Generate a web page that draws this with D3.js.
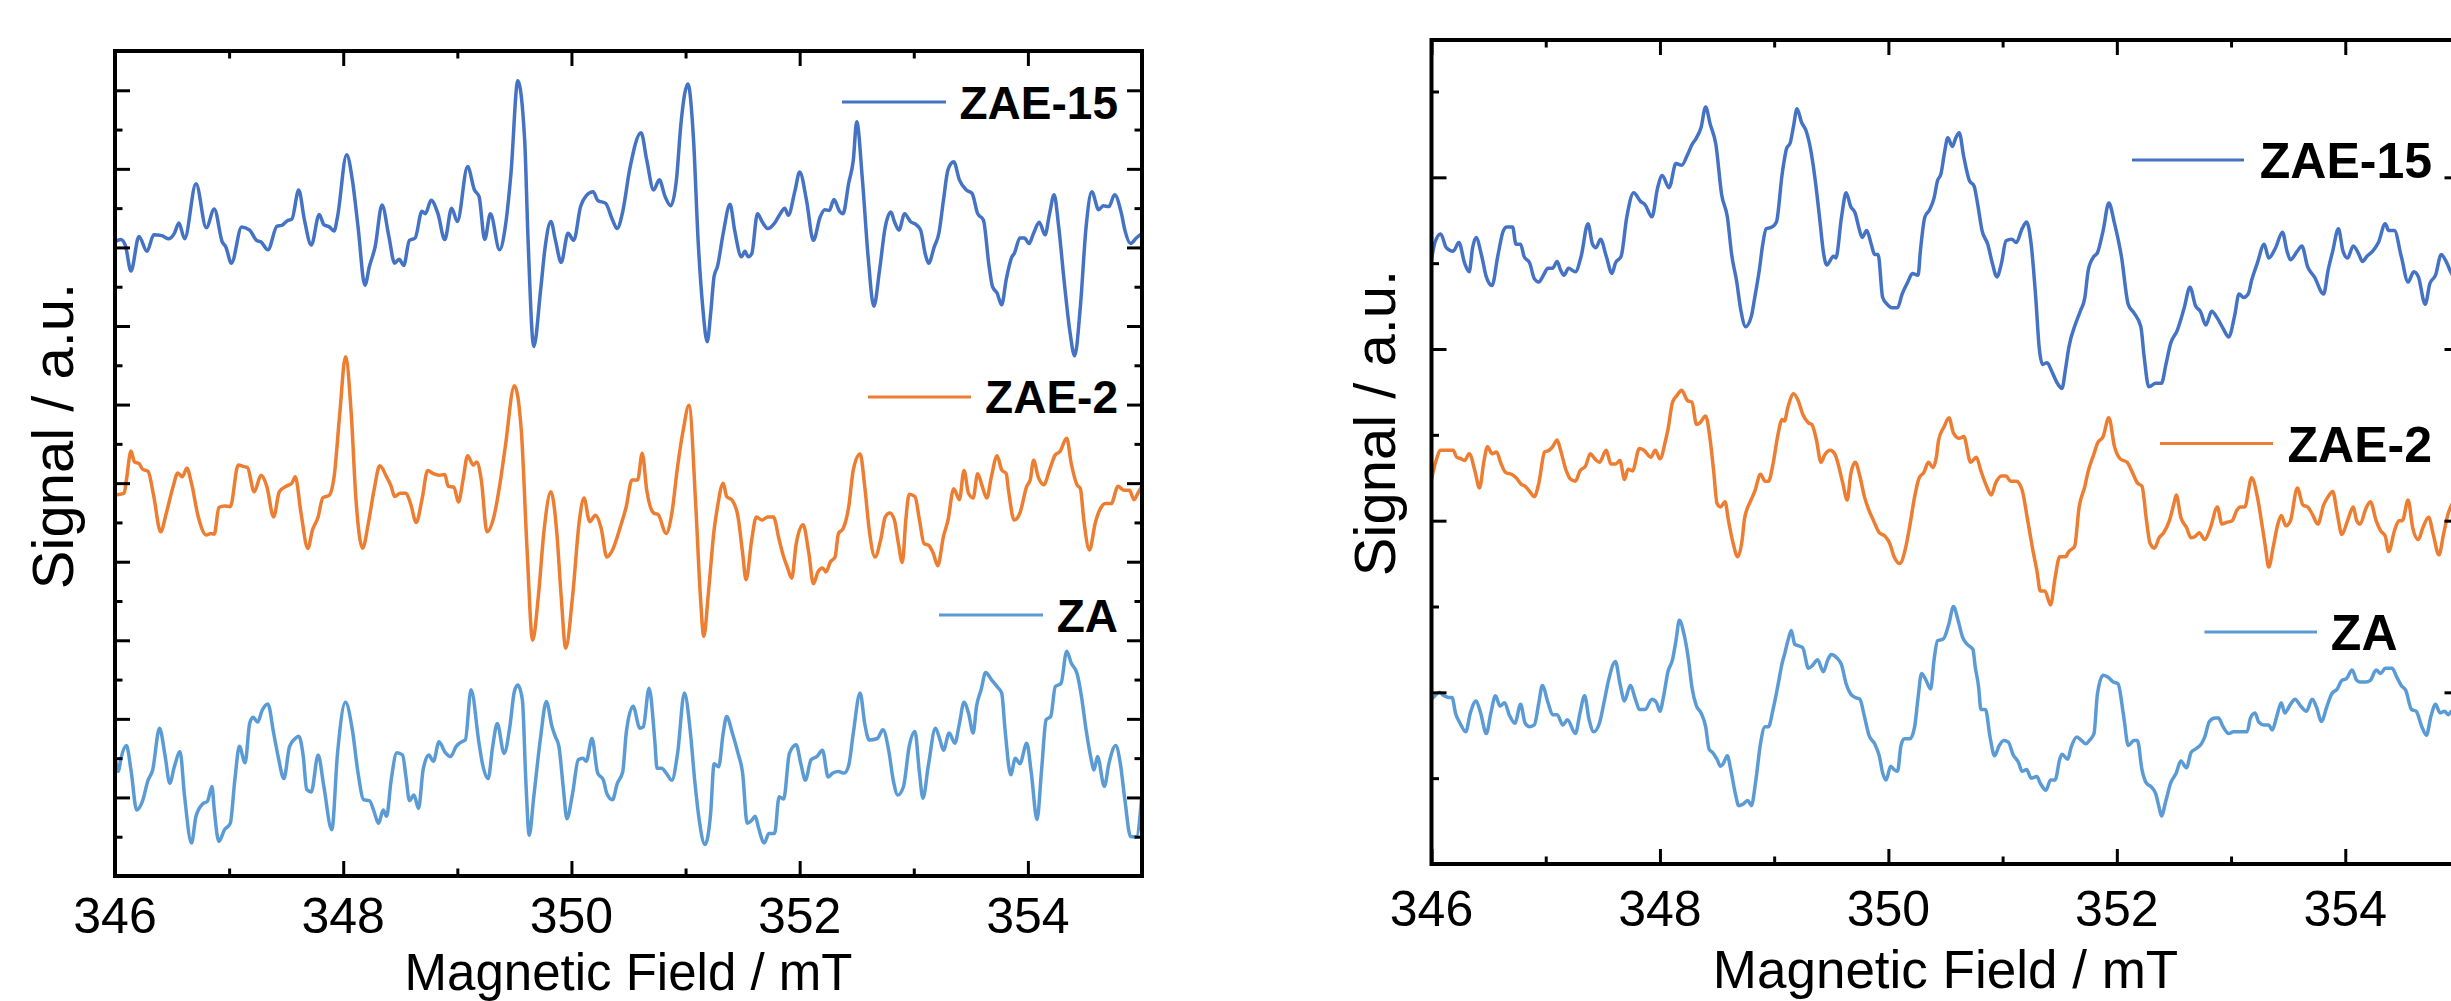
<!DOCTYPE html>
<html><head><meta charset="utf-8">
<script src="https://cdn.jsdelivr.net/npm/d3@7"></script>
<style>html,body{margin:0;padding:0;background:#fff;} svg{display:block;}</style>
</head><body>
<svg id="chart" width="2451" height="1001"></svg>
<script>
// ---------------- data ----------------
const seriesNames = ["ZAE-15", "ZAE-2", "ZA"];
const seriesColors = ["#4472C4", "#ED7D31", "#5B9BD5"];
const fieldDomain = [346, 355];
const xMajorTicks = [346, 348, 350, 352, 354];
const xMinorTicks = [347, 349, 351, 353, 355];
const xAxisTitle = "Magnetic Field / mT";
const yAxisTitle = "Signal / a.u.";
const leftSignalDomain = [0, 10.5];
const rightSignalDomain = [0, 4.8];

// left panel: [field mT, signal a.u.]
const leftZAE15 = [[346.00,8.07],[346.05,8.10],[346.09,8.03],[346.14,7.70],[346.21,8.14],[346.28,7.95],[346.34,8.16],[346.41,8.15],[346.47,8.11],[346.52,8.18],[346.56,8.31],[346.61,8.11],[346.71,8.81],[346.80,8.25],[346.87,8.49],[346.94,8.07],[346.97,8.01],[347.02,7.80],[347.11,8.26],[347.18,8.22],[347.24,8.09],[347.28,8.07],[347.34,7.97],[347.42,8.27],[347.46,8.28],[347.51,8.34],[347.55,8.36],[347.61,8.73],[347.66,8.35],[347.72,8.03],[347.79,8.42],[347.83,8.29],[347.88,8.26],[347.92,8.21],[347.95,8.39],[348.03,9.18],[348.08,8.86],[348.13,8.26],[348.19,7.52],[348.23,7.76],[348.28,8.01],[348.34,8.54],[348.40,8.14],[348.45,7.80],[348.49,7.85],[348.53,7.77],[348.58,8.09],[348.63,8.12],[348.69,8.46],[348.72,8.43],[348.77,8.60],[348.83,8.43],[348.89,8.10],[348.95,8.50],[349.00,8.33],[349.09,9.03],[349.15,8.73],[349.19,8.65],[349.24,8.10],[349.29,8.43],[349.37,7.97],[349.42,8.26],[349.47,8.94],[349.53,10.12],[349.59,9.37],[349.62,8.09],[349.67,6.74],[349.73,7.46],[349.77,8.01],[349.82,8.33],[349.86,8.09],[349.91,7.81],[349.97,8.18],[350.02,8.09],[350.08,8.52],[350.13,8.66],[350.19,8.71],[350.23,8.60],[350.30,8.56],[350.36,8.35],[350.40,8.24],[350.45,8.46],[350.51,8.99],[350.61,9.46],[350.66,9.11],[350.72,8.73],[350.77,8.86],[350.82,8.65],[350.87,8.53],[350.92,8.86],[350.96,9.58],[351.02,10.08],[351.07,9.37],[351.11,8.09],[351.15,7.25],[351.19,6.80],[351.22,7.16],[351.25,7.63],[351.28,7.76],[351.33,8.18],[351.39,8.55],[351.43,8.22],[351.49,7.88],[351.52,7.95],[351.55,7.88],[351.58,7.92],[351.63,8.43],[351.67,8.33],[351.72,8.24],[351.78,8.31],[351.83,8.43],[351.87,8.50],[351.90,8.41],[351.96,8.73],[352.00,8.96],[352.06,8.60],[352.12,8.09],[352.18,8.39],[352.22,8.48],[352.26,8.47],[352.30,8.61],[352.35,8.46],[352.38,8.43],[352.43,8.82],[352.47,9.11],[352.50,9.60],[352.55,8.86],[352.60,7.88],[352.65,7.25],[352.70,7.71],[352.75,8.26],[352.80,8.45],[352.83,8.33],[352.87,8.22],[352.92,8.43],[352.97,8.33],[353.02,8.29],[353.06,8.22],[353.10,7.92],[353.13,7.80],[353.18,8.01],[353.22,8.18],[353.26,8.60],[353.30,8.99],[353.35,9.09],[353.40,8.86],[353.46,8.73],[353.51,8.69],[353.56,8.43],[353.61,8.35],[353.66,7.76],[353.69,7.50],[353.73,7.42],[353.77,7.27],[353.81,7.59],[353.86,7.88],[353.88,7.92],[353.93,8.12],[353.97,8.12],[354.01,8.05],[354.05,8.18],[354.10,8.32],[354.15,8.16],[354.19,8.43],[354.23,8.67],[354.27,8.26],[354.32,7.54],[354.37,6.91],[354.41,6.62],[354.46,7.25],[354.51,8.26],[354.56,8.71],[354.62,8.48],[354.66,8.53],[354.71,8.52],[354.76,8.67],[354.82,8.43],[354.85,8.22],[354.90,8.05],[354.95,8.12],[355.00,8.18]];

const leftZAE2 = [[346.00,4.85],[346.08,4.87],[346.10,5.04],[346.14,5.41],[346.17,5.27],[346.21,5.25],[346.24,5.18],[346.29,5.15],[346.34,4.83],[346.40,4.38],[346.45,4.62],[346.51,4.96],[346.55,5.13],[346.59,5.08],[346.63,5.19],[346.67,5.00],[346.73,4.57],[346.80,4.34],[346.84,4.36],[346.87,4.35],[346.91,4.69],[346.96,4.71],[347.01,4.70],[347.08,5.23],[347.13,5.21],[347.16,5.20],[347.22,4.89],[347.28,5.10],[347.33,4.96],[347.39,4.57],[347.44,4.89],[347.50,4.96],[347.55,5.00],[347.58,5.08],[347.63,4.62],[347.69,4.17],[347.73,4.40],[347.78,4.57],[347.82,4.81],[347.88,4.85],[347.92,5.08],[347.97,5.89],[348.02,6.61],[348.07,5.89],[348.11,4.83],[348.17,4.17],[348.22,4.49],[348.27,4.91],[348.32,5.22],[348.38,5.08],[348.42,4.96],[348.45,4.83],[348.50,4.87],[348.55,4.87],[348.59,4.74],[348.64,4.50],[348.69,4.79],[348.74,5.16],[348.79,5.12],[348.84,5.10],[348.89,5.11],[348.92,4.96],[348.97,4.95],[349.01,4.76],[349.05,5.04],[349.09,5.35],[349.14,5.23],[349.17,5.27],[349.21,5.04],[349.26,4.38],[349.32,4.57],[349.37,4.96],[349.42,5.46],[349.50,6.24],[349.56,5.68],[349.61,4.19],[349.66,3.00],[349.71,3.56],[349.76,4.40],[349.82,4.89],[349.87,4.40],[349.91,3.56],[349.95,2.90],[350.01,3.56],[350.07,4.53],[350.11,4.81],[350.16,4.51],[350.21,4.59],[350.26,4.43],[350.31,4.06],[350.36,4.15],[350.43,4.45],[350.48,4.70],[350.53,5.04],[350.58,5.04],[350.62,5.38],[350.66,4.91],[350.72,4.62],[350.76,4.60],[350.83,4.36],[350.88,4.62],[350.93,5.21],[350.98,5.68],[351.03,5.99],[351.09,4.70],[351.13,3.56],[351.16,3.05],[351.20,3.60],[351.25,4.40],[351.28,4.70],[351.33,5.00],[351.36,4.83],[351.41,4.78],[351.46,4.57],[351.50,4.11],[351.53,3.77],[351.58,4.28],[351.62,4.57],[351.67,4.53],[351.72,4.57],[351.77,4.57],[351.82,4.28],[351.86,4.06],[351.89,3.94],[351.93,3.79],[351.97,4.23],[352.03,4.47],[352.08,4.11],[352.12,3.72],[352.16,3.87],[352.20,3.92],[352.23,3.87],[352.27,4.00],[352.31,4.06],[352.34,4.36],[352.38,4.42],[352.43,4.70],[352.47,5.17],[352.53,5.37],[352.57,4.96],[352.61,4.40],[352.66,4.06],[352.71,4.28],[352.75,4.57],[352.79,4.62],[352.83,4.53],[352.86,4.28],[352.90,3.99],[352.93,4.53],[352.96,4.86],[353.01,4.83],[353.05,4.53],[353.09,4.23],[353.13,4.21],[353.17,4.11],[353.21,3.95],[353.26,4.32],[353.30,4.53],[353.35,4.93],[353.40,4.79],[353.44,5.16],[353.48,4.87],[353.52,4.81],[353.56,5.12],[353.60,4.96],[353.64,4.81],[353.68,5.08],[353.73,5.35],[353.77,5.17],[353.81,5.12],[353.83,4.91],[353.88,4.53],[353.93,4.62],[353.99,4.96],[354.02,5.04],[354.05,5.29],[354.09,5.08],[354.14,4.98],[354.19,5.17],[354.24,5.36],[354.28,5.40],[354.34,5.57],[354.38,5.25],[354.43,4.98],[354.46,4.93],[354.49,4.53],[354.54,4.15],[354.59,4.49],[354.63,4.66],[354.68,4.74],[354.73,4.74],[354.79,4.96],[354.84,4.91],[354.89,4.91],[354.93,4.79],[354.97,4.89],[355.00,4.96]];

const leftZA = [[346.00,1.54],[346.03,1.33],[346.05,1.48],[346.10,1.66],[346.14,1.35],[346.19,0.84],[346.24,0.95],[346.29,1.22],[346.33,1.35],[346.39,1.88],[346.44,1.52],[346.48,1.18],[346.52,1.39],[346.57,1.58],[346.61,1.01],[346.67,0.42],[346.71,0.76],[346.77,0.92],[346.81,0.95],[346.85,1.14],[346.87,0.84],[346.91,0.44],[346.96,0.59],[347.01,0.67],[347.05,1.22],[347.09,1.65],[347.14,1.44],[347.18,1.94],[347.21,2.02],[347.25,1.96],[347.29,2.11],[347.34,2.19],[347.39,1.82],[347.43,1.52],[347.48,1.24],[347.53,1.65],[347.58,1.75],[347.61,1.78],[347.65,1.52],[347.68,1.10],[347.72,1.07],[347.78,1.54],[347.83,1.14],[347.90,0.59],[347.95,1.56],[348.02,2.21],[348.08,1.86],[348.13,1.31],[348.18,0.97],[348.23,0.96],[348.27,0.82],[348.31,0.67],[348.35,0.84],[348.38,0.76],[348.42,1.22],[348.47,1.57],[348.52,1.54],[348.55,1.26],[348.58,0.96],[348.62,1.03],[348.66,0.86],[348.70,1.35],[348.75,1.54],[348.79,1.46],[348.84,1.71],[348.89,1.58],[348.94,1.52],[348.99,1.65],[349.04,1.71],[349.07,1.73],[349.12,2.37],[349.19,1.69],[349.22,1.43],[349.27,1.24],[349.31,1.65],[349.35,1.94],[349.41,1.56],[349.46,1.90],[349.50,2.35],[349.53,2.43],[349.57,2.24],[349.60,1.22],[349.63,0.52],[349.67,1.01],[349.73,1.77],[349.78,2.22],[349.83,1.90],[349.86,1.77],[349.89,1.65],[349.93,1.10],[349.96,0.73],[350.01,1.05],[350.06,1.48],[350.10,1.50],[350.13,1.46],[350.18,1.75],[350.23,1.31],[350.28,1.22],[350.31,1.05],[350.36,0.97],[350.40,1.17],[350.45,1.33],[350.48,1.82],[350.54,2.16],[350.60,1.88],[350.63,1.90],[350.68,2.39],[350.73,1.73],[350.75,1.37],[350.79,1.37],[350.83,1.31],[350.88,1.22],[350.93,1.56],[350.99,2.33],[351.04,1.86],[351.08,1.22],[351.12,0.71],[351.17,0.40],[351.22,0.80],[351.25,1.43],[351.29,1.39],[351.33,1.82],[351.36,2.03],[351.41,1.82],[351.46,1.56],[351.50,1.31],[351.54,0.67],[351.58,0.71],[351.61,0.76],[351.64,0.61],[351.69,0.42],[351.73,0.54],[351.78,0.54],[351.82,1.01],[351.86,0.98],[351.91,1.56],[351.97,1.67],[352.01,1.43],[352.05,1.22],[352.10,1.48],[352.15,1.52],[352.20,1.60],[352.25,1.26],[352.29,1.31],[352.34,1.33],[352.39,1.31],[352.43,1.41],[352.47,1.82],[352.53,2.33],[352.57,1.94],[352.61,1.73],[352.68,1.75],[352.73,1.86],[352.78,1.60],[352.82,1.22],[352.86,1.03],[352.91,1.14],[352.96,1.65],[353.01,1.84],[353.05,1.31],[353.08,0.99],[353.13,1.43],[353.19,1.88],[353.23,1.73],[353.26,1.60],[353.31,1.82],[353.36,1.69],[353.40,1.94],[353.44,2.21],[353.48,2.07],[353.52,1.82],[353.55,2.16],[353.59,2.37],[353.63,2.59],[353.68,2.50],[353.73,2.41],[353.77,2.33],[353.80,1.86],[353.85,1.29],[353.89,1.50],[353.93,1.43],[353.99,1.69],[354.03,1.31],[354.08,0.72],[354.12,1.35],[354.16,1.99],[354.20,2.03],[354.24,2.41],[354.29,2.45],[354.34,2.86],[354.38,2.71],[354.43,2.58],[354.47,2.28],[354.51,1.86],[354.55,1.52],[354.58,1.35],[354.61,1.52],[354.67,1.14],[354.71,1.43],[354.77,1.66],[354.81,1.43],[354.85,0.97],[354.90,0.50],[354.95,0.50],[355.00,1.05]];

// right panel: [field mT, signal a.u.]
const rightZAE15 = [[346.00,3.52],[346.03,3.62],[346.08,3.67],[346.13,3.59],[346.19,3.57],[346.24,3.62],[346.29,3.50],[346.33,3.45],[346.36,3.59],[346.39,3.65],[346.44,3.54],[346.48,3.42],[346.53,3.37],[346.58,3.54],[346.63,3.69],[346.66,3.71],[346.71,3.71],[346.74,3.61],[346.78,3.61],[346.81,3.54],[346.86,3.50],[346.90,3.41],[346.94,3.39],[346.98,3.43],[347.02,3.47],[347.06,3.47],[347.10,3.51],[347.13,3.46],[347.16,3.43],[347.20,3.47],[347.26,3.45],[347.31,3.54],[347.37,3.73],[347.41,3.61],[347.44,3.59],[347.48,3.64],[347.53,3.54],[347.58,3.44],[347.61,3.50],[347.66,3.54],[347.71,3.77],[347.77,3.91],[347.83,3.86],[347.87,3.84],[347.93,3.77],[347.98,3.94],[348.02,4.01],[348.08,3.94],[348.14,4.08],[348.19,4.07],[348.24,4.13],[348.28,4.19],[348.32,4.23],[348.36,4.29],[348.40,4.41],[348.44,4.31],[348.49,4.19],[348.54,3.90],[348.59,3.77],[348.63,3.54],[348.67,3.40],[348.71,3.22],[348.75,3.13],[348.80,3.19],[348.83,3.30],[348.87,3.46],[348.90,3.61],[348.93,3.70],[348.98,3.71],[349.02,3.74],[349.07,4.02],[349.11,4.17],[349.14,4.20],[349.17,4.30],[349.20,4.40],[349.24,4.32],[349.28,4.27],[349.32,4.16],[349.36,3.98],[349.40,3.75],[349.43,3.57],[349.46,3.49],[349.52,3.54],[349.54,3.53],[349.59,3.77],[349.63,3.91],[349.67,3.83],[349.71,3.79],[349.74,3.71],[349.77,3.65],[349.81,3.69],[349.85,3.61],[349.88,3.55],[349.91,3.55],[349.95,3.30],[349.99,3.26],[350.03,3.24],[350.08,3.24],[350.12,3.32],[350.17,3.39],[350.21,3.44],[350.26,3.43],[350.28,3.57],[350.32,3.77],[350.36,3.81],[350.40,3.88],[350.43,3.98],[350.46,4.02],[350.49,4.14],[350.52,4.23],[350.56,4.18],[350.59,4.23],[350.62,4.26],[350.66,4.12],[350.71,3.98],[350.75,3.95],[350.78,3.85],[350.82,3.69],[350.87,3.61],[350.91,3.50],[350.95,3.42],[350.99,3.50],[351.03,3.63],[351.08,3.64],[351.12,3.62],[351.17,3.70],[351.21,3.74],[351.25,3.61],[351.29,3.30],[351.32,3.01],[351.35,2.91],[351.39,2.92],[351.43,2.87],[351.48,2.80],[351.52,2.77],[351.55,2.88],[351.58,3.01],[351.64,3.15],[351.68,3.22],[351.72,3.30],[351.75,3.46],[351.80,3.54],[351.83,3.56],[351.88,3.69],[351.93,3.85],[351.98,3.73],[352.04,3.54],[352.10,3.26],[352.15,3.21],[352.21,3.13],[352.24,2.95],[352.28,2.78],[352.34,2.80],[352.39,2.80],[352.43,2.91],[352.47,3.03],[352.53,3.11],[352.59,3.24],[352.64,3.36],[352.69,3.25],[352.73,3.22],[352.78,3.14],[352.83,3.22],[352.88,3.18],[352.93,3.12],[352.98,3.07],[353.03,3.19],[353.07,3.32],[353.11,3.30],[353.15,3.32],[353.18,3.40],[353.23,3.50],[353.29,3.61],[353.33,3.53],[353.39,3.59],[353.45,3.68],[353.49,3.57],[353.52,3.52],[353.58,3.57],[353.62,3.60],[353.67,3.48],[353.73,3.42],[353.81,3.32],[353.85,3.46],[353.89,3.57],[353.94,3.70],[353.98,3.57],[354.02,3.53],[354.07,3.60],[354.12,3.55],[354.15,3.51],[354.19,3.54],[354.24,3.57],[354.29,3.62],[354.35,3.73],[354.38,3.69],[354.43,3.69],[354.49,3.54],[354.55,3.39],[354.60,3.45],[354.64,3.42],[354.70,3.26],[354.74,3.38],[354.79,3.43],[354.84,3.55],[354.89,3.50],[354.93,3.44],[355.00,3.40]];

const rightZAE2 = [[346.00,2.24],[346.04,2.35],[346.08,2.41],[346.13,2.41],[346.16,2.41],[346.19,2.41],[346.22,2.37],[346.26,2.36],[346.29,2.35],[346.33,2.39],[346.38,2.29],[346.42,2.19],[346.46,2.35],[346.49,2.43],[346.53,2.39],[346.57,2.40],[346.61,2.33],[346.65,2.28],[346.70,2.27],[346.74,2.25],[346.79,2.21],[346.82,2.20],[346.86,2.17],[346.90,2.14],[346.94,2.22],[346.99,2.40],[347.03,2.41],[347.06,2.43],[347.10,2.47],[347.13,2.41],[347.18,2.29],[347.22,2.24],[347.26,2.23],[347.30,2.29],[347.35,2.32],[347.39,2.39],[347.43,2.36],[347.47,2.34],[347.53,2.41],[347.57,2.33],[347.61,2.33],[347.65,2.35],[347.69,2.24],[347.72,2.30],[347.76,2.29],[347.82,2.42],[347.86,2.41],[347.92,2.37],[347.96,2.41],[348.00,2.36],[348.05,2.47],[348.07,2.53],[348.11,2.69],[348.15,2.73],[348.19,2.76],[348.24,2.70],[348.28,2.69],[348.32,2.56],[348.35,2.57],[348.40,2.61],[348.44,2.47],[348.47,2.29],[348.50,2.10],[348.53,2.08],[348.57,2.11],[348.60,2.00],[348.64,1.87],[348.68,1.79],[348.72,1.89],[348.74,2.01],[348.79,2.11],[348.83,2.17],[348.88,2.27],[348.92,2.23],[348.95,2.23],[348.99,2.33],[349.03,2.49],[349.07,2.59],[349.09,2.58],[349.12,2.66],[349.17,2.74],[349.21,2.70],[349.25,2.62],[349.30,2.57],[349.33,2.56],[349.37,2.47],[349.41,2.34],[349.44,2.38],[349.49,2.41],[349.53,2.39],[349.56,2.33],[349.60,2.22],[349.64,2.12],[349.67,2.27],[349.71,2.34],[349.75,2.26],[349.79,2.14],[349.83,2.06],[349.87,2.00],[349.92,1.93],[349.97,1.91],[350.01,1.87],[350.05,1.79],[350.10,1.75],[350.15,1.84],[350.19,1.98],[350.23,2.14],[350.27,2.25],[350.31,2.28],[350.35,2.34],[350.39,2.31],[350.42,2.37],[350.44,2.47],[350.49,2.55],[350.53,2.60],[350.57,2.51],[350.62,2.48],[350.66,2.49],[350.72,2.34],[350.77,2.37],[350.81,2.29],[350.86,2.20],[350.90,2.15],[350.94,2.22],[350.99,2.26],[351.03,2.26],[351.07,2.23],[351.12,2.23],[351.17,2.18],[351.22,2.00],[351.27,1.81],[351.30,1.71],[351.33,1.59],[351.37,1.59],[351.42,1.51],[351.46,1.67],[351.50,1.79],[351.55,1.79],[351.58,1.82],[351.63,1.85],[351.67,2.08],[351.72,2.20],[351.75,2.29],[351.80,2.39],[351.83,2.45],[351.88,2.49],[351.93,2.60],[351.98,2.43],[352.03,2.36],[352.09,2.34],[352.13,2.29],[352.18,2.22],[352.22,2.20],[352.26,2.00],[352.29,1.87],[352.33,1.84],[352.37,1.90],[352.41,1.93],[352.46,2.00],[352.50,2.10],[352.52,2.15],[352.56,2.02],[352.61,1.96],[352.65,1.90],[352.69,1.91],[352.72,1.93],[352.77,1.89],[352.82,1.96],[352.88,2.08],[352.92,1.98],[352.96,1.99],[353.01,2.00],[353.05,2.06],[353.08,2.08],[353.12,2.08],[353.18,2.25],[353.23,2.14],[353.27,1.98],[353.30,1.85],[353.33,1.73],[353.37,1.85],[353.41,1.98],[353.44,2.03],[353.48,1.97],[353.52,2.00],[353.58,2.19],[353.63,2.09],[353.67,2.08],[353.71,2.04],[353.76,1.98],[353.81,2.09],[353.85,2.14],[353.89,2.17],[353.93,2.04],[353.97,1.92],[354.02,2.00],[354.07,2.08],[354.10,2.00],[354.13,1.98],[354.18,2.07],[354.22,2.11],[354.27,2.00],[354.31,1.94],[354.35,1.91],[354.38,1.82],[354.43,1.94],[354.47,2.00],[354.50,2.00],[354.55,2.12],[354.59,1.96],[354.64,1.89],[354.68,1.96],[354.73,2.02],[354.77,1.92],[354.82,1.80],[354.86,1.92],[354.90,2.04],[354.93,2.09],[355.00,2.15]];

const rightZA = [[346.00,0.96],[346.03,0.98],[346.07,1.00],[346.11,0.98],[346.15,0.97],[346.18,0.97],[346.21,0.88],[346.25,0.82],[346.30,0.77],[346.34,0.88],[346.39,0.95],[346.43,0.88],[346.48,0.76],[346.52,0.88],[346.56,0.98],[346.60,0.92],[346.64,0.94],[346.68,0.87],[346.73,0.82],[346.78,0.93],[346.82,0.82],[346.86,0.80],[346.90,0.81],[346.94,0.94],[346.97,1.04],[347.02,0.94],[347.06,0.87],[347.10,0.87],[347.15,0.81],[347.19,0.84],[347.26,0.76],[347.30,0.88],[347.34,0.98],[347.38,0.84],[347.42,0.77],[347.47,0.82],[347.51,0.94],[347.55,1.07],[347.61,1.18],[347.65,1.05],[347.69,0.95],[347.74,1.04],[347.79,0.95],[347.82,0.90],[347.87,0.90],[347.93,0.96],[347.97,0.94],[348.00,0.89],[348.03,0.97],[348.07,1.12],[348.11,1.19],[348.14,1.30],[348.17,1.42],[348.21,1.34],[348.25,1.19],[348.28,1.03],[348.32,0.92],[348.36,0.88],[348.40,0.80],[348.43,0.67],[348.46,0.65],[348.50,0.61],[348.53,0.57],[348.55,0.58],[348.59,0.63],[348.62,0.55],[348.66,0.41],[348.69,0.34],[348.73,0.35],[348.77,0.37],[348.80,0.34],[348.84,0.49],[348.88,0.70],[348.92,0.80],[348.95,0.80],[348.99,0.90],[349.03,1.03],[349.07,1.17],[349.09,1.22],[349.12,1.30],[349.15,1.36],[349.18,1.28],[349.22,1.27],[349.25,1.26],[349.30,1.14],[349.34,1.16],[349.38,1.19],[349.43,1.12],[349.47,1.19],[349.50,1.22],[349.55,1.20],[349.59,1.16],[349.63,1.05],[349.67,0.99],[349.71,0.97],[349.75,0.96],[349.79,0.86],[349.83,0.75],[349.88,0.70],[349.92,0.63],[349.95,0.53],[349.98,0.49],[350.02,0.57],[350.05,0.55],[350.08,0.54],[350.11,0.69],[350.14,0.73],[350.19,0.73],[350.23,0.80],[350.26,0.97],[350.29,1.11],[350.33,1.07],[350.37,1.02],[350.40,1.19],[350.43,1.30],[350.48,1.31],[350.53,1.40],[350.57,1.50],[350.61,1.42],[350.65,1.32],[350.69,1.28],[350.74,1.25],[350.76,1.15],[350.79,1.03],[350.81,0.90],[350.85,0.90],[350.89,0.74],[350.93,0.63],[350.97,0.69],[351.01,0.72],[351.05,0.71],[351.09,0.64],[351.14,0.59],[351.17,0.54],[351.21,0.55],[351.25,0.50],[351.30,0.51],[351.33,0.47],[351.38,0.43],[351.42,0.49],[351.46,0.49],[351.50,0.61],[351.52,0.64],[351.57,0.61],[351.60,0.68],[351.65,0.74],[351.69,0.72],[351.73,0.70],[351.76,0.72],[351.80,0.76],[351.83,0.99],[351.88,1.10],[351.92,1.09],[351.97,1.06],[352.01,1.05],[352.06,0.86],[352.10,0.69],[352.15,0.72],[352.18,0.72],[352.22,0.55],[352.26,0.47],[352.30,0.45],[352.34,0.41],[352.37,0.33],[352.39,0.28],[352.43,0.37],[352.47,0.47],[352.52,0.53],[352.56,0.60],[352.61,0.56],[352.65,0.65],[352.69,0.67],[352.74,0.70],[352.77,0.74],[352.81,0.83],[352.86,0.85],[352.89,0.85],[352.93,0.80],[352.98,0.76],[353.02,0.77],[353.08,0.77],[353.14,0.77],[353.17,0.85],[353.21,0.88],[353.24,0.83],[353.29,0.81],[353.33,0.81],[353.36,0.78],[353.40,0.86],[353.44,0.94],[353.47,0.88],[353.52,0.93],[353.56,0.96],[353.61,0.92],[353.66,0.89],[353.71,0.96],[353.75,0.91],[353.79,0.83],[353.84,0.92],[353.88,0.99],[353.93,1.02],[353.97,1.07],[354.01,1.08],[354.06,1.13],[354.10,1.07],[354.13,1.06],[354.18,1.06],[354.22,1.07],[354.27,1.13],[354.31,1.11],[354.35,1.14],[354.41,1.14],[354.45,1.09],[354.49,1.04],[354.53,1.01],[354.58,0.90],[354.62,0.89],[354.67,0.80],[354.71,0.75],[354.75,0.86],[354.79,0.93],[354.83,0.88],[354.87,0.89],[354.90,0.87],[354.93,0.89],[355.00,0.90]];

// ---------------- drawing ----------------
const svg = d3.select("#chart");
const FONT = "Arial, 'Liberation Sans', Helvetica, sans-serif";

const panels = [
  { id: "L", x0: 115, x1: 1142, yBottom: 876, yTop: 51, ydom: leftSignalDomain,
    series: [leftZAE15, leftZAE2, leftZA],
    tickLabelBaseline: 932.5, titleBaseline: 990, titleFont: 51, yTitleX: 73, yTitleY: 436,
    legendFont: 46,
    legend: [ {lx0: 842, lx1: 946, ly: 102, tx: 1118, tb: 119},
              {lx0: 868, lx1: 971, ly: 397, tx: 1118, tb: 413},
              {lx0: 939, lx1: 1043, ly: 615, tx: 1118, tb: 632} ] },
  { id: "R", x0: 1431.5, x1: 2459.5, yBottom: 864, yTop: 40, ydom: rightSignalDomain,
    series: [rightZAE15, rightZAE2, rightZA],
    tickLabelBaseline: 926, titleBaseline: 988, titleFont: 53, yTitleX: 1395, yTitleY: 423,
    legendFont: 50,
    legend: [ {lx0: 2132, lx1: 2244, ly: 160, tx: 2432, tb: 178},
              {lx0: 2160, lx1: 2273, ly: 443.5, tx: 2432, tb: 461.5},
              {lx0: 2204.5, lx1: 2317, ly: 632, tx: 2397.5, tb: 650} ] }
];

const MAJ = 15, MIN = 7.5;

panels.forEach(p => {
  const x = d3.scaleLinear().domain(fieldDomain).range([p.x0, p.x1]);
  const y = d3.scaleLinear().domain(p.ydom).range([p.yBottom, p.yTop]);
  const g = svg.append("g");

  const clipId = "clip" + p.id;
  svg.append("clipPath").attr("id", clipId).append("rect")
    .attr("x", p.x0).attr("y", p.yTop).attr("width", p.x1 - p.x0).attr("height", p.yBottom - p.yTop);

  // curves
  const line = d3.line().x(d => x(d[0])).y(d => y(d[1])).curve(d3.curveMonotoneX);
  const cg = g.append("g").attr("clip-path", `url(#${clipId})`);
  p.series.forEach((s, i) => {
    cg.append("path").datum(s).attr("d", line)
      .attr("fill", "none").attr("stroke", seriesColors[i])
      .attr("stroke-width", 3.5).attr("stroke-linejoin", "round").attr("stroke-linecap", "round");
  });

  // y tick values
  const yMajor = d3.range(Math.ceil(p.ydom[0]), Math.floor(p.ydom[1]) + 0.001, 1);
  const yMinor = d3.range(0.5, p.ydom[1] + 0.001, 1);

  function styleAxis(sel) {
    sel.select(".domain").remove();
    sel.selectAll(".tick line").attr("stroke", "#000").attr("stroke-width", 3);
    sel.selectAll(".tick text").remove();
  }
  // bottom
  g.append("g").attr("transform", `translate(0,${p.yBottom})`)
    .call(d3.axisBottom(x).tickValues(xMajorTicks).tickSizeInner(-MAJ).tickSizeOuter(0)).call(styleAxis);
  g.append("g").attr("transform", `translate(0,${p.yBottom})`)
    .call(d3.axisBottom(x).tickValues(xMinorTicks).tickSizeInner(-MIN).tickSizeOuter(0)).call(styleAxis);
  // top
  g.append("g").attr("transform", `translate(0,${p.yTop})`)
    .call(d3.axisTop(x).tickValues(xMajorTicks).tickSizeInner(-MAJ).tickSizeOuter(0)).call(styleAxis);
  g.append("g").attr("transform", `translate(0,${p.yTop})`)
    .call(d3.axisTop(x).tickValues(xMinorTicks).tickSizeInner(-MIN).tickSizeOuter(0)).call(styleAxis);
  // left
  g.append("g").attr("transform", `translate(${p.x0},0)`)
    .call(d3.axisLeft(y).tickValues(yMajor).tickSizeInner(-MAJ).tickSizeOuter(0)).call(styleAxis);
  g.append("g").attr("transform", `translate(${p.x0},0)`)
    .call(d3.axisLeft(y).tickValues(yMinor).tickSizeInner(-MIN).tickSizeOuter(0)).call(styleAxis);
  // right
  g.append("g").attr("transform", `translate(${p.x1},0)`)
    .call(d3.axisRight(y).tickValues(yMajor).tickSizeInner(-MAJ).tickSizeOuter(0)).call(styleAxis);
  g.append("g").attr("transform", `translate(${p.x1},0)`)
    .call(d3.axisRight(y).tickValues(yMinor).tickSizeInner(-MIN).tickSizeOuter(0)).call(styleAxis);

  // frame
  g.append("rect").attr("x", p.x0).attr("y", p.yTop)
    .attr("width", p.x1 - p.x0).attr("height", p.yBottom - p.yTop)
    .attr("fill", "none").attr("stroke", "#000").attr("stroke-width", 4);

  // tick labels
  g.selectAll(".xl").data(xMajorTicks).enter().append("text")
    .attr("x", d => x(d)).attr("y", p.tickLabelBaseline)
    .attr("text-anchor", "middle").attr("font-family", FONT).attr("font-size", 50)
    .attr("fill", "#000").text(d => d);

  // axis titles
  g.append("text").attr("x", (p.x0 + p.x1) / 2).attr("y", p.titleBaseline)
    .attr("text-anchor", "middle").attr("font-family", FONT).attr("font-size", p.titleFont)
    .attr("fill", "#000").text(xAxisTitle);
  g.append("text").attr("transform", `translate(${p.yTitleX},${p.yTitleY}) rotate(-90)`)
    .attr("text-anchor", "middle").attr("font-family", FONT).attr("font-size", 58)
    .attr("fill", "#000").text(yAxisTitle);

  // legend
  p.legend.forEach((l, i) => {
    g.append("line").attr("x1", l.lx0).attr("x2", l.lx1).attr("y1", l.ly).attr("y2", l.ly)
      .attr("stroke", seriesColors[i]).attr("stroke-width", 3);
    g.append("text").attr("x", l.tx).attr("y", l.tb).attr("text-anchor", "end")
      .attr("font-family", FONT).attr("font-weight", "bold").attr("font-size", p.legendFont)
      .attr("fill", "#000").text(seriesNames[i]);
  });
});
</script>
</body></html>
